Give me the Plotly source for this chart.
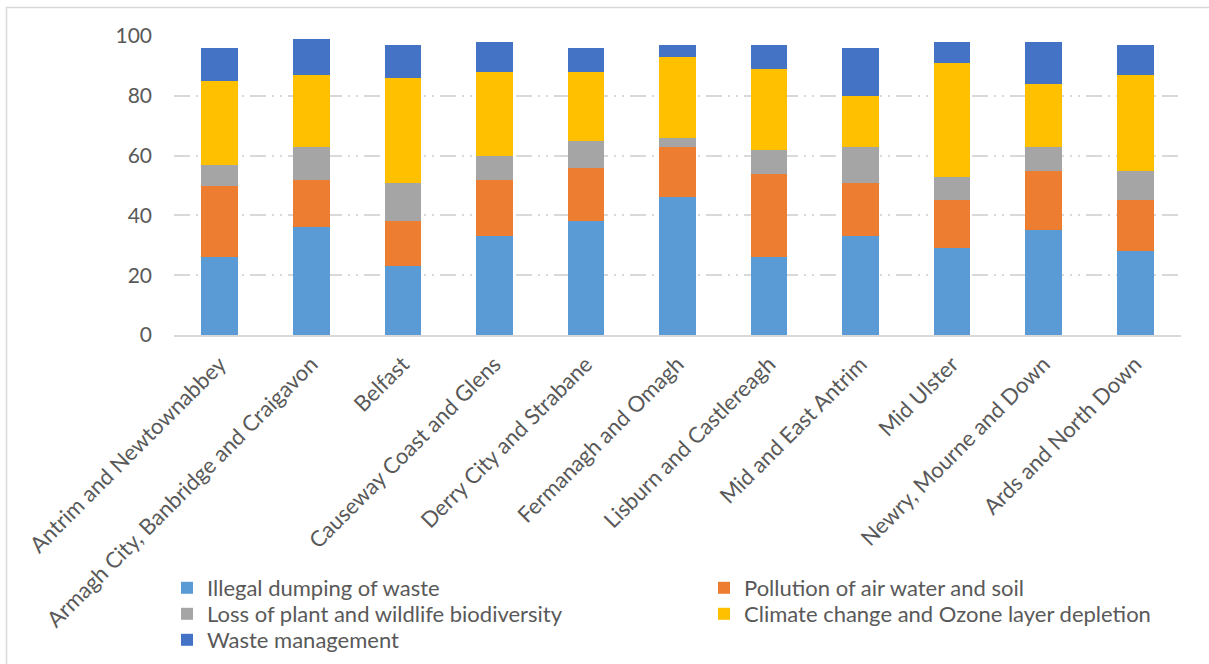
import plotly.graph_objects as go

categories = [
    "Antrim and Newtownabbey",
    "Armagh City, Banbridge and Craigavon",
    "Belfast",
    "Causeway Coast and Glens",
    "Derry City and Strabane",
    "Fermanagh and Omagh",
    "Lisburn and Castlereagh",
    "Mid and East Antrim",
    "Mid Ulster",
    "Newry, Mourne and Down",
    "Ards and North Down",
]

illegal_dumping = [26, 36, 23, 33, 38, 46, 26, 33, 29, 35, 28]
pollution = [24, 16, 15, 19, 18, 17, 28, 18, 16, 20, 17]
biodiversity = [7, 11, 13, 8, 9, 3, 8, 12, 8, 8, 10]
climate_change = [28, 24, 35, 28, 23, 27, 27, 17, 38, 21, 32]
waste_management = [11, 12, 11, 10, 8, 4, 8, 16, 7, 14, 10]

series = [
    ("Illegal dumping of waste", illegal_dumping, "#5B9BD5", "legend"),
    ("Pollution of air water and soil", pollution, "#ED7D31", "legend"),
    ("Loss of plant and wildlife biodiversity", biodiversity, "#A5A5A5", "legend2"),
    ("Climate change and Ozone layer depletion", climate_change, "#FFC000", "legend2"),
    ("Waste management", waste_management, "#4472C4", "legend3"),
]

W, H = 1209, 664
L, R, T, B = 174, 28, 36, 329
FONT = "Lato"
TXT = "#595959"

fig = go.Figure()
for name, vals, col, lg in series:
    fig.add_trace(go.Bar(x=categories, y=vals, name=name, marker_color=col,
                         marker_line_width=0, legend=lg))

pw = W - L - R
ph = H - T - B
def px_x(p):
    return (p - L) / pw
def px_y(p):
    return (H - B - p) / ph

def legend_at(ypix):
    return dict(
        orientation="h",
        x=px_x(167), xanchor="left",
        y=px_y(ypix), yanchor="middle",
        entrywidth=492, entrywidthmode="pixels",
        itemwidth=30,
        font=dict(family=FONT, size=22, color=TXT),
        traceorder="normal",
        bgcolor="rgba(0,0,0,0)",
    )

fig.update_layout(
    width=W, height=H,
    margin=dict(l=L, r=R, t=T, b=B, autoexpand=False),
    barmode="stack",
    bargap=0.6,
    plot_bgcolor="white",
    paper_bgcolor="white",
    font=dict(family=FONT, size=20, color=TXT),
    showlegend=True,
    legend=legend_at(588),
    legend2=legend_at(614),
    legend3=legend_at(640),
    shapes=[dict(type="rect", xref="paper", yref="paper",
                 x0=px_x(6.5), x1=px_x(1230), y0=px_y(7.5), y1=px_y(690),
                 line=dict(color="#D9D9D9", width=1.5), layer="below")],
)

fig.update_yaxes(
    range=[0, 100], dtick=20, showgrid=True,
    gridcolor="#D9D9D9", gridwidth=1.5,
    griddash="16px,6px,2px,6px,2px,6px",
    zeroline=False, showline=False,
    tickfont=dict(family=FONT, size=21, color=TXT),
    ticklabelstandoff=21,
)
fig.update_xaxes(
    showline=True, linecolor="#D9D9D9", linewidth=1.5,
    tickangle=-45, showgrid=False,
    tickfont=dict(family=FONT, size=22, color=TXT),
    ticklabelstandoff=6,
)

fig.write_html("out.html")
